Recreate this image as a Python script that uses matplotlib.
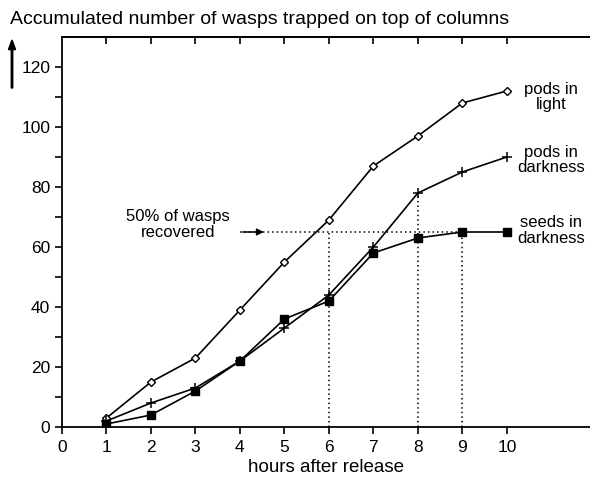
import matplotlib
matplotlib.use("Agg")
import matplotlib.pyplot as plt
import numpy as np

plt.rcParams['font.family'] = ['Liberation Sans', 'DejaVu Sans']

hours = [1, 2, 3, 4, 5, 6, 7, 8, 9, 10]
pods_light = [3, 15, 23, 39, 55, 69, 87, 97, 108, 112]
pods_dark = [2, 8, 13, 22, 33, 44, 60, 78, 85, 90]
seeds_dark = [1, 4, 12, 22, 36, 42, 58, 63, 65, 65]
half_level = 65
x_ticks = [0, 1, 2, 3, 4, 5, 6, 7, 8, 9, 10]
y_major = [0, 20, 40, 60, 80, 100, 120]
y_minor = [10, 30, 50, 70, 90, 110]

fig = plt.figure(figsize=(5.90, 4.79), dpi=100)
ax = fig.add_axes([62/590, 1-427/479, 1-62/590, (427-37)/479])
ax.set_xlim(0, 11.87)
ax.set_ylim(0, 130)

dot = (0, (1.0, 2.0))
ax.plot([4.0, 9], [half_level, half_level], ls=dot, color='black', lw=1.1)
ax.annotate('', xy=(4.6, half_level), xytext=(4.0, half_level),
            arrowprops=dict(arrowstyle='-|>', color='black', lw=1.1, mutation_scale=10))
ax.plot([6, 6], [0, half_level], ls=dot, color='black', lw=1.1)
ax.plot([8, 8], [0, pods_dark[7]], ls=dot, color='black', lw=1.1)
ax.plot([9, 9], [0, seeds_dark[8]], ls=dot, color='black', lw=1.1)

ax.plot(hours, pods_light, color='black', lw=1.2, marker='D', ms=4.5, mfc='white', mec='black', mew=1)
ax.plot(hours, pods_dark, color='black', lw=1.2, marker='+', ms=7, mew=1.1)
ax.plot(hours, seeds_dark, color='black', lw=1.2, marker='s', ms=6, mfc='black', mec='black')

ax.spines['right'].set_visible(False)
for s in ['left', 'bottom', 'top']:
    ax.spines[s].set_linewidth(1.3)

ax.set_xticks(x_ticks)
ax.set_yticks(y_major)
ax.set_yticks(y_minor, minor=True)
ax.tick_params(axis='both', which='both', direction='out', length=5, width=1.2, labelsize=12.5)
ax.tick_params(axis='x', pad=4)

top = ax.secondary_xaxis('top')
top.set_xticks(hours)
top.tick_params(direction='in', length=5, width=1.2, labeltop=False)
top.spines['top'].set_linewidth(1.3)

ax.set_xlabel('hours after release', fontsize=13.5, labelpad=3)

fig.text(10/590, 1-20/479, 'Accumulated number of wasps trapped on top of columns',
         fontsize=14, ha='left', va='center')
fig.patches.append(matplotlib.patches.FancyArrow(12/590, 1-88/479, 0, (88-40)/479,
                   width=0.0025, head_width=0.012, head_length=0.02, color='black',
                   length_includes_head=True, transform=fig.transFigure, figure=fig))

ax.text(2.6, 67.5, '50% of wasps\nrecovered', ha='center', va='center', fontsize=12, linespacing=1.05)
ax.text(10.99, 110, 'pods in\nlight', ha='center', va='center', fontsize=12, linespacing=1.05)
ax.text(10.99, 89, 'pods in\ndarkness', ha='center', va='center', fontsize=12, linespacing=1.05)
ax.text(10.99, 65.5, 'seeds in\ndarkness', ha='center', va='center', fontsize=12, linespacing=1.05)

fig.savefig('out.png', dpi=100)
